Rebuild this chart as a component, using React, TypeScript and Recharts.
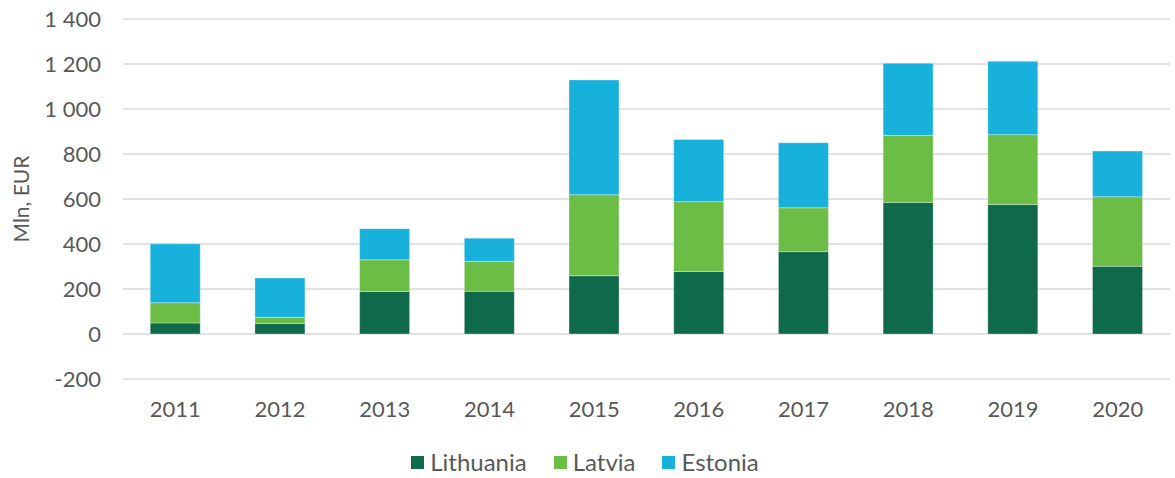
import { BarChart, Bar, XAxis, YAxis, CartesianGrid, Legend, Label } from 'recharts'

const years = ['2011', '2012', '2013', '2014', '2015', '2016', '2017', '2018', '2019', '2020']
const lithuania = [49, 47, 189, 190, 259, 278, 366, 585, 576, 301]
const latvia = [90, 27, 141, 133, 360, 310, 195, 298, 310, 309]
const estonia = [262, 175, 138, 103, 510, 277, 289, 320, 326, 203]
const yTicks = [-200, 0, 200, 400, 600, 800, 1000, 1200, 1400]

const series = [
  { key: 'Lithuania', color: '#0e6a4b' },
  { key: 'Latvia', color: '#6cbd45' },
  { key: 'Estonia', color: '#17b1dc' },
]

const data = years.map((year, i) => ({
  year,
  Lithuania: lithuania[i],
  Latvia: latvia[i],
  Estonia: estonia[i],
}))

const font = 'Lato, "Open Sans", sans-serif'
const textColor = '#595959'

const formatTick = (v: number) => (Math.abs(v) >= 1000 ? String(v).replace(/(\d)(\d{3})$/, '$1 $2') : String(v))

function LegendContent() {
  return (
    <div style={{ display: 'flex', justifyContent: 'center', alignItems: 'center', gap: 27 }}>
      {series.map((s) => (
        <div key={s.key} style={{ display: 'flex', alignItems: 'center', gap: 6 }}>
          <span style={{ display: 'inline-block', width: 13, height: 13, background: s.color }} />
          <span style={{ color: textColor, fontSize: 24, fontFamily: font, lineHeight: '28px' }}>{s.key}</span>
        </div>
      ))}
    </div>
  )
}

export default function App() {
  return (
    <div style={{ position: 'absolute', left: 0, top: 0, fontFamily: font }}>
      <BarChart
        width={1175}
        height={478}
        data={data}
        margin={{ top: 19, right: 5, bottom: 2, left: 0 }}
        barCategoryGap="26%"
      >
        <CartesianGrid vertical={false} stroke="#d9d9d9" strokeWidth={1.5} />
        <XAxis
          dataKey="year"
          axisLine={false}
          tickLine={false}
          height={69}
          tickMargin={16}
          tick={{ fill: textColor, fontSize: 22, fontFamily: font }}
        />
        <YAxis
          domain={[-200, 1400]}
          ticks={yTicks}
          width={123}
          axisLine={false}
          tickLine={false}
          tickMargin={16}
          tickFormatter={formatTick}
          tick={{ fill: textColor, fontSize: 22, fontFamily: font }}
        >
          <Label
            value="Mln, EUR"
            angle={-90}
            position="insideLeft"
            offset={22}
            style={{ fill: textColor, fontSize: 21, fontFamily: font, textAnchor: 'middle' }}
          />
        </YAxis>
        <Legend verticalAlign="bottom" content={<LegendContent />} />
        {series.map((s) => (
          <Bar
            key={s.key}
            dataKey={s.key}
            stackId="a"
            fill={s.color}
            stroke="#ffffff"
            strokeOpacity={0.4}
            strokeWidth={0.8}
            isAnimationActive={false}
          />
        ))}
      </BarChart>
    </div>
  )
}
